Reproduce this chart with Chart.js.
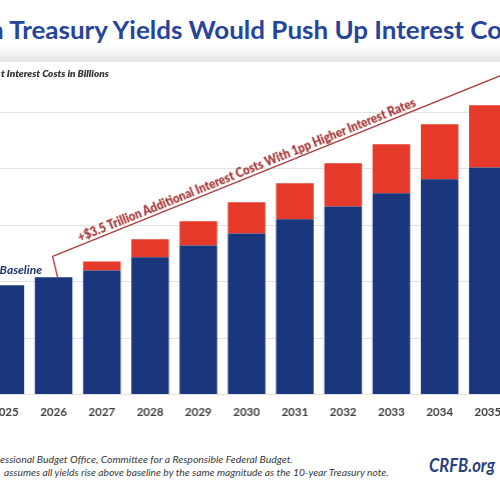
<!DOCTYPE html>
<html>
<head>
<meta charset="utf-8">
<script src="https://cdn.jsdelivr.net/npm/chart.js@4.4.1/dist/chart.umd.min.js"></script>
<style>
    html, body { margin: 0; padding: 0; background: #fff; }
    body { width: 500px; height: 488px; position: relative; overflow: hidden; font-family: Lato, "Open Sans", sans-serif; }
    #band {
        position: absolute; left: 0; top: 0; width: 500px; height: 62px; z-index: 2;
        background: linear-gradient(#fff 0px, #fff 44px, #f2f2f2 54px, #e3e3e3 61px, #ececec 62px);
    }
    #wrap { position: absolute; }
    .txt { position: absolute; white-space: nowrap; line-height: 1; z-index: 3; }
    .mark { display: inline-block; width: 0; height: 0; vertical-align: baseline; }
</style>
</head>
<body>
<div id="band"></div>
<div id="wrap"><canvas id="chart"></canvas></div>

<script>
// ── data (net interest, $ billions) ─────────────────────────────────────
const years = ['2025', '2026', '2027', '2028', '2029', '2030', '2031', '2032', '2033', '2034', '2035'];
const baselineCost = [1160, 1245, 1319, 1458, 1585, 1713, 1862, 2000, 2139, 2288, 2415];
const addedCost = [0, 0, 96, 192, 256, 331, 384, 459, 523, 587, 662];
const yStep = 600;
const yMax = 3600;

const FONT = 'Lato, "Open Sans", sans-serif';
const NAVY = '#1a367c';
const RED = '#e5392a';
const MAROON = '#a83a3a';

// where the plot area sits on the page (it runs past both edges)
const PLOT_LEFT = -18.6;
const PLOT_WIDTH = 530.2;
const PLOT_TOP = 55.6;
const PLOT_BOTTOM = 394;
const X_AXIS_H = 34;

// bracket from the 2026 bar up along the red tops
const ELBOW = { dx: -5, dy: -21 };
const ANGLE = 22 * Math.PI / 180;

const measureCtx = document.createElement('canvas').getContext('2d');

function textWidth(text, size, weight, style) {
    measureCtx.font = `${style || 'normal'} ${weight || 400} ${size}px ${FONT}`;
    return measureCtx.measureText(text).width;
}

// horizontal squeeze so a run of text at a given size spans `target` px
function squeeze(text, target, size, weight, style) {
    return target / textWidth(text, size, weight, style);
}

// put a line of text so that its baseline starts at (x, y)
function putText(text, o) {
    const el = document.createElement('div');
    el.className = 'txt';
    el.textContent = text;
    el.style.fontSize = o.size + 'px';
    el.style.fontWeight = o.weight || 400;
    el.style.fontStyle = o.style || 'normal';
    el.style.color = o.color;
    const mark = document.createElement('span');
    mark.className = 'mark';
    el.appendChild(mark);
    document.body.appendChild(el);
    el.style.left = '0px';
    el.style.top = '0px';
    const base = mark.getBoundingClientRect().top - el.getBoundingClientRect().top;
    el.style.left = o.x + 'px';
    el.style.top = (o.y - base) + 'px';
    const t = [];
    if (o.rotate) t.push(`rotate(${o.rotate}deg)`);
    if (o.scaleX) t.push(`scaleX(${o.scaleX})`);
    if (t.length) {
        el.style.transformOrigin = `0 ${base}px`;
        el.style.transform = t.join(' ');
    }
    return el;
}

function elbowPoints(chart) {
    const x = chart.scales.x;
    const y = chart.scales.y;
    const p0 = { x: x.getPixelForValue(1) + 4, y: y.getPixelForValue(baselineCost[1] + addedCost[1]) };
    const p1 = { x: p0.x + ELBOW.dx, y: p0.y + ELBOW.dy };
    return [p0, p1];
}

const bracketPlugin = {
    id: 'bracket',
    afterDatasetsDraw(chart) {
        const [p0, p1] = elbowPoints(chart);
        const ctx = chart.ctx;
        ctx.save();
        ctx.strokeStyle = MAROON;
        ctx.lineWidth = 1.4;
        ctx.beginPath();
        ctx.moveTo(p0.x, p0.y);
        ctx.lineTo(p1.x, p1.y);
        ctx.lineTo(p1.x + 1000 * Math.cos(ANGLE), p1.y - 1000 * Math.sin(ANGLE));
        ctx.stroke();
        ctx.restore();
    }
};

const wrap = document.getElementById('wrap');
wrap.style.left = PLOT_LEFT + 'px';
wrap.style.top = PLOT_TOP + 'px';
wrap.style.width = PLOT_WIDTH + 'px';
wrap.style.height = (PLOT_BOTTOM - PLOT_TOP + X_AXIS_H) + 'px';

const chart = new Chart(document.getElementById('chart'), {
    type: 'bar',
    data: {
        labels: years,
        datasets: [
            {
                label: 'Baseline',
                data: baselineCost,
                backgroundColor: NAVY,
                barPercentage: 0.9,
                categoryPercentage: 0.865
            },
            {
                label: '1pp Higher Interest Rates',
                data: addedCost,
                backgroundColor: RED,
                barPercentage: 0.9,
                categoryPercentage: 0.865
            }
        ]
    },
    options: {
        responsive: true,
        maintainAspectRatio: false,
        animation: false,
        layout: { padding: 0 },
        plugins: {
            legend: { display: false },
            tooltip: { enabled: false }
        },
        scales: {
            x: {
                stacked: true,
                grid: { display: false, drawTicks: false },
                border: { display: false },
                ticks: {
                    padding: 11,
                    color: '#404040',
                    font: { family: FONT, size: 11.5, weight: 'bold' }
                },
                afterFit: s => { s.height = X_AXIS_H; }
            },
            y: {
                stacked: true,
                min: 0,
                max: yMax,
                grid: { color: '#e2e2e2', lineWidth: 1, drawTicks: false },
                border: { display: false },
                ticks: { display: false, stepSize: yStep },
                afterFit: s => { s.width = 0; }
            }
        }
    },
    plugins: [bracketPlugin]
});

// ── page text ───────────────────────────────────────────────────────────
// title: cropped on both sides of the picture
const titleSize = 25;
const titleScale = squeeze('Treasury Yields Would Push Up Interest ', 463, titleSize, 700);
putText('n Treasury Yields Would Push Up Interest Costs', {
    x: 10 - titleScale * textWidth('n ', titleSize, 700),
    y: 38.5,
    size: titleSize,
    weight: 700,
    color: '#25449a',
    scaleX: titleScale
});

const subSize = 9.8;
const subScale = squeeze('Interest Costs in Billions', 102, subSize, 800, 'italic');
putText('t Interest Costs in Billions', {
    x: 7 - subScale * textWidth('t ', subSize, 800, 'italic'),
    y: 76.5,
    size: subSize,
    weight: 800,
    style: 'italic',
    color: '#333',
    scaleX: subScale
});

const baseSize = 12;
putText('Baseline', {
    x: 42 - textWidth('Baseline', baseSize, 700, 'italic'),
    y: 273.5,
    size: baseSize,
    weight: 700,
    style: 'italic',
    color: '#1e3472'
});

const noteSize = 9.8;
const note1 = 'essional Budget Office, Committee for a Responsible Federal Budget.';
putText(note1, {
    x: 0,
    y: 462.5,
    size: noteSize,
    style: 'italic',
    color: '#3a3a3a',
    scaleX: squeeze(note1, 293, noteSize, 400, 'italic')
});

const note2 = 'assumes all yields rise above baseline by the same magnitude as the 10-year Treasury note.';
putText(note2, {
    x: 4,
    y: 476,
    size: noteSize,
    style: 'italic',
    color: '#3a3a3a',
    scaleX: squeeze(note2, 386, noteSize, 400, 'italic')
});

const crfbSize = 18;
putText('CRFB.org', {
    x: 429,
    y: 472,
    size: crfbSize,
    weight: 700,
    style: 'italic',
    color: '#2a3f7c',
    scaleX: squeeze('CRFB.org', 66, crfbSize, 700, 'italic')
});

// annotation along the bracket, sitting just above the diagonal
const annText = '+$3.5 Trillion Additional Interest Costs With 1pp Higher Interest Rates';
const annSize = 12.5;
const [, elbow] = elbowPoints(chart);
const along = 30;
const gap = 2.5;
const ex = PLOT_LEFT + elbow.x + along * Math.cos(ANGLE) - gap * Math.sin(ANGLE);
const ey = PLOT_TOP + elbow.y - along * Math.sin(ANGLE) - gap * Math.cos(ANGLE);
putText(annText, {
    x: ex,
    y: ey,
    size: annSize,
    weight: 800,
    color: MAROON,
    rotate: -ANGLE * 180 / Math.PI,
    scaleX: squeeze(annText, 364, annSize, 800)
});
</script>
</body>
</html>
